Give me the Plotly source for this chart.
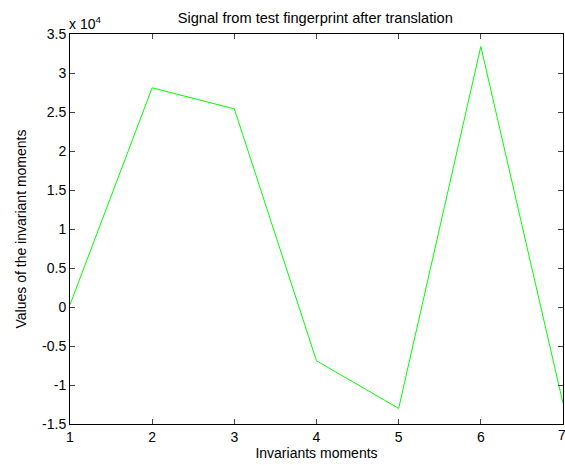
import plotly.graph_objects as go

# Invariant moment index and its value (scaled by 10^4 on the axis)
moments = [1, 2, 3, 4, 5, 6, 7]
values = [300, 28100, 25400, -6900, -13000, 33400, -12350]

y_ticks = [-1.5, -1, -0.5, 0, 0.5, 1, 1.5, 2, 2.5, 3, 3.5]
y_tick_text = ["-1.5", "-1", "-0.5", "0", "0.5", "1", "1.5", "2", "2.5", "3", "3.5"]
scale = 1e4

font = dict(family="Liberation Sans, Arial, sans-serif", size=14, color="black")

fig = go.Figure()
fig.add_trace(go.Scatter(
    x=moments, y=values, mode="lines",
    line=dict(color="#00ff00", width=1),
    showlegend=False, hoverinfo="skip",
))

fig.update_layout(
    width=565, height=465,
    margin=dict(l=70, r=2, t=34, b=41),
    paper_bgcolor="white", plot_bgcolor="white",
    font=font,
    title=dict(text="Signal from test fingerprint after translation",
               x=0.558, xanchor="center", y=1 - 18 / 465, yanchor="middle",
               font=dict(size=14.6)),
    xaxis=dict(
        range=[1, 7], tickvals=moments[:-1], ticks="inside", ticklen=5,
        showline=True, linecolor="black", linewidth=1, mirror="ticks",
        showgrid=False, zeroline=False,
        title=dict(text="Invariants moments", font=dict(size=14), standoff=1),
        tickfont=dict(size=14),
    ),
    yaxis=dict(
        range=[-1.5 * scale, 3.5 * scale],
        tickvals=[t * scale for t in y_ticks], ticktext=y_tick_text,
        ticks="inside", ticklen=5,
        showline=True, linecolor="black", linewidth=1, mirror="ticks",
        showgrid=False, zeroline=False,
        title=dict(text="Values of the invariant moments", font=dict(size=14), standoff=12),
        tickfont=dict(size=14),
    ),
    annotations=[
        dict(text="x 10<sup>4</sup>", xref="paper", yref="paper",
             x=0, y=1, xanchor="left", yanchor="bottom", yshift=0, xshift=-3,
             showarrow=False, font=dict(size=14)),
        # last x tick label sits on the right edge of the figure
        dict(text=str(moments[-1]), xref="x", yref="paper",
             x=moments[-1], y=0, xanchor="center", yanchor="top", yshift=-1, xshift=-1,
             showarrow=False, font=dict(size=14)),
    ],
)

fig.write_html("out.html")
